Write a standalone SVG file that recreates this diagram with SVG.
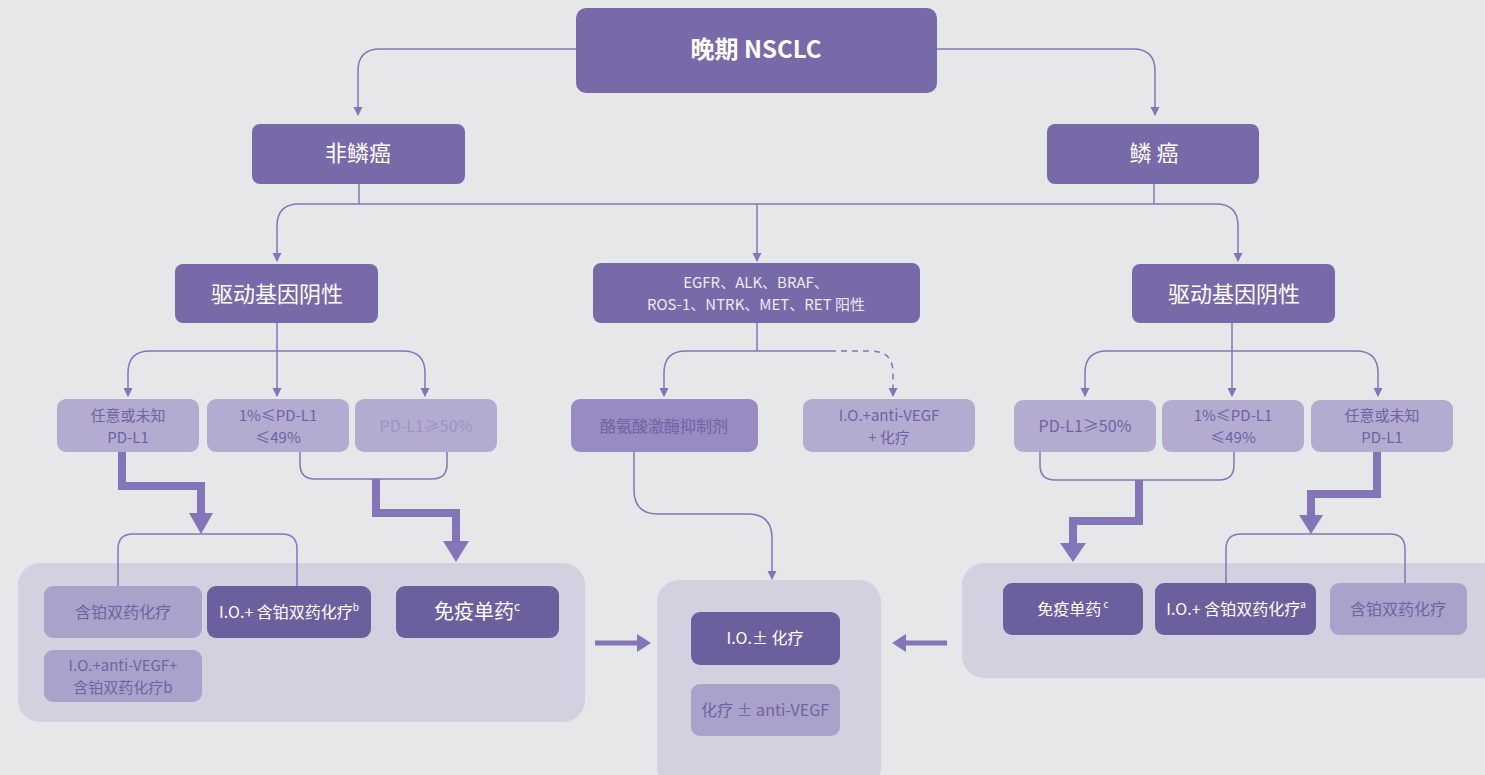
<svg xmlns="http://www.w3.org/2000/svg" width="1485" height="775" viewBox="0 0 1485 775">
<defs>
<marker id="ah" markerUnits="userSpaceOnUse" markerWidth="10" markerHeight="10" refX="8" refY="4.5" orient="auto"><path d="M0,0 L9,4.5 L0,9 z" fill="#8474b8"/></marker>
<style>
text{font-family:"Noto Sans CJK SC","Noto Sans",sans-serif;text-anchor:middle}
.dk{fill:#786aa8}
.dk2{fill:#6b5f9e}
.md{fill:#978bc1}
.lt{fill:#b3acd0}
.lt2{fill:#a9a2cb}
.pn{fill:#d3d1df}
.w{fill:#ffffff}
.wt{fill:#ece9f5}
.pt{fill:#7062a4}
.pf{fill:#9d93c4}
.ln{fill:none;stroke:#8474b8;stroke-width:1.5}
.ar{fill:none;stroke:#8474b8;stroke-width:1.5;marker-end:url(#ah)}
.th{fill:none;stroke:#8474b8;stroke-width:8}
.hd{fill:#8474b8}
</style>
</defs>
<rect width="1485" height="775" fill="#e6e7e9"/>

<g id="panels">
<rect class="pn" x="18" y="563" width="567" height="159" rx="22"/>
<rect class="pn" x="657" y="580" width="224" height="210" rx="22"/>
<rect class="pn" x="962" y="563" width="540" height="115" rx="22"/>
</g>

<g id="connectors">
<path class="ar" d="M576,49 H380 Q358,49 358,71 V115"/>
<path class="ar" d="M937,49 H1133 Q1155,49 1155,71 V115"/>
<path class="ln" d="M359,184 V204"/>
<path class="ln" d="M1154,184 V204"/>
<path class="ar" d="M1154,204 H299 Q277,204 277,226 V261"/>
<path class="ar" d="M1154,204 H1216 Q1238,204 1238,226 V261"/>
<path class="ar" d="M757,204 V261"/>

<path class="ln" d="M277,323 V351"/>
<path class="ar" d="M277,351 H150 Q128,351 128,373 V396"/>
<path class="ar" d="M277,351 H403 Q425,351 425,373 V396"/>
<path class="ar" d="M277,351 V396"/>

<path class="ln" d="M757,323 V351"/>
<path class="ar" d="M830,351 H686 Q664,351 664,373 V396"/>
<path class="ar" d="M830,351 H871 Q893,351 893,373 V396" stroke-dasharray="6,5"/>

<path class="ln" d="M1232,323 V351"/>
<path class="ar" d="M1232,351 H1107 Q1085,351 1085,373 V396"/>
<path class="ar" d="M1232,351 H1356 Q1378,351 1378,373 V396"/>
<path class="ar" d="M1232,351 V396"/>

<path class="ln" d="M300,452 V464 Q300,479 315,479 H432 Q447,479 447,464 V452"/>
<path class="ln" d="M118,586 V549 Q118,534 133,534 H282 Q297,534 297,549 V586"/>
<path class="ln" d="M1040,452 V465 Q1040,480 1055,480 H1219 Q1234,480 1234,465 V452"/>
<path class="ln" d="M1226,583 V549 Q1226,534 1241,534 H1390 Q1405,534 1405,549 V583"/>

<path class="th" d="M122,452 V486 H201 V514"/>
<polygon class="hd" points="189,513 213,513 201,534"/>
<path class="th" d="M376,479 V513 H456 V542"/>
<polygon class="hd" points="443,541 469,541 456,562"/>
<path class="th" d="M1139,480 V521 H1073 V544"/>
<polygon class="hd" points="1060,543 1086,543 1073,562"/>
<path class="th" d="M1377,452 V494 H1311 V516"/>
<polygon class="hd" points="1299,515 1323,515 1311,534"/>

<path class="ar" d="M634,452 V490 Q634,514 658,514 H748 Q772,514 772,538 V579"/>

<path d="M595,643 H638" stroke="#8474b8" stroke-width="5" fill="none"/>
<polygon class="hd" points="637,634 651,643 637,652"/>
<path d="M947,643 H905" stroke="#8474b8" stroke-width="5" fill="none"/>
<polygon class="hd" points="906,634 892,643 906,652"/>
</g>

<g id="n-top"><rect class="dk" x="576" y="8" width="361" height="85" rx="10"/><text class="w" x="756" y="58" font-size="24" font-weight="bold">晚期 NSCLC</text></g>
<g id="n-nonsq"><rect class="dk" x="252" y="124" width="213" height="60" rx="8"/><text class="w" x="358" y="161" font-size="22">非鳞癌</text></g>
<g id="n-sq"><rect class="dk" x="1047" y="124" width="212" height="60" rx="8"/><text class="w" x="1154" y="161" font-size="22">鳞 癌</text></g>

<g id="n-drvneg-l"><rect class="dk" x="175" y="264" width="203" height="59" rx="8"/><text class="w" x="277" y="302" font-size="22">驱动基因阴性</text></g>
<g id="n-egfr"><rect class="dk" x="593" y="263" width="327" height="60" rx="8"/><text class="wt" x="756" y="288" font-size="15">EGFR、ALK、BRAF、</text><text class="wt" x="756" y="310" font-size="15">ROS-1、NTRK、MET、RET 阳性</text></g>
<g id="n-drvneg-r"><rect class="dk" x="1132" y="264" width="203" height="59" rx="8"/><text class="w" x="1234" y="302" font-size="22">驱动基因阴性</text></g>

<g id="n-l-any"><rect class="lt" x="57" y="399" width="142" height="53" rx="9"/><text class="pt" x="128" y="421" font-size="15">任意或未知</text><text class="pt" x="128" y="443" font-size="15">PD-L1</text></g>
<g id="n-l-mid"><rect class="lt" x="207" y="399" width="142" height="53" rx="9"/><text class="pt" x="278" y="421" font-size="15">1%≤PD-L1</text><text class="pt" x="278" y="443" font-size="15">≤49%</text></g>
<g id="n-l-high"><rect class="lt" x="355" y="399" width="142" height="53" rx="9"/><text class="pf" x="426" y="432" font-size="16">PD-L1≥50%</text></g>

<g id="n-tki"><rect class="md" x="571" y="399" width="187" height="53" rx="9"/><text class="pt" x="664" y="432" font-size="16">酪氨酸激酶抑制剂</text></g>
<g id="n-iovegf"><rect class="lt" x="803" y="399" width="172" height="53" rx="9"/><text class="pt" x="889" y="421" font-size="15">I.O.+anti-VEGF</text><text class="pt" x="889" y="443" font-size="15">+ 化疗</text></g>

<g id="n-r-high"><rect class="lt" x="1014" y="400" width="142" height="52" rx="9"/><text class="pt" x="1085" y="432" font-size="16">PD-L1≥50%</text></g>
<g id="n-r-mid"><rect class="lt" x="1162" y="400" width="142" height="52" rx="9"/><text class="pt" x="1233" y="421" font-size="15">1%≤PD-L1</text><text class="pt" x="1233" y="443" font-size="15">≤49%</text></g>
<g id="n-r-any"><rect class="lt" x="1311" y="400" width="142" height="52" rx="9"/><text class="pt" x="1382" y="421" font-size="15">任意或未知</text><text class="pt" x="1382" y="443" font-size="15">PD-L1</text></g>

<g id="n-l-chemo"><rect class="lt2" x="44" y="586" width="158" height="52" rx="9"/><text class="pt" x="123" y="618" font-size="16">含铂双药化疗</text></g>
<g id="n-l-iochemo"><rect class="dk2" x="207" y="586" width="164" height="52" rx="9"/><text class="w" x="289" y="618" font-size="16">I.O.+ 含铂双药化疗<tspan font-size="10" dy="-7">b</tspan></text></g>
<g id="n-l-mono"><rect class="dk2" x="396" y="586" width="163" height="52" rx="9"/><text class="w" x="477" y="619" font-size="20">免疫单药<tspan font-size="12" dy="-8">c</tspan></text></g>
<g id="n-l-iovegfchemo"><rect class="lt2" x="44" y="650" width="158" height="52" rx="9"/><text class="pt" x="123" y="671" font-size="15">I.O.+anti-VEGF+</text><text class="pt" x="123" y="693" font-size="15">含铂双药化疗b</text></g>

<g id="n-m-iochemo"><rect class="dk2" x="691" y="612" width="149" height="53" rx="9"/><text class="w" x="765" y="644" font-size="16">I.O.± 化疗</text></g>
<g id="n-m-chemovegf"><rect class="lt2" x="691" y="684" width="149" height="52" rx="9"/><text class="pt" x="765" y="716" font-size="16">化疗 ± anti-VEGF</text></g>

<g id="n-r-mono"><rect class="dk2" x="1003" y="583" width="140" height="52" rx="9"/><text class="w" x="1073" y="615" font-size="16">免疫单药<tspan font-size="10" dy="-7"> c</tspan></text></g>
<g id="n-r-iochemo"><rect class="dk2" x="1155" y="583" width="161" height="52" rx="9"/><text class="w" x="1236" y="615" font-size="16">I.O.+ 含铂双药化疗<tspan font-size="10" dy="-7">a</tspan></text></g>
<g id="n-r-chemo"><rect class="lt2" x="1330" y="583" width="137" height="52" rx="9"/><text class="pt" x="1398" y="615" font-size="16">含铂双药化疗</text></g>
</svg>
